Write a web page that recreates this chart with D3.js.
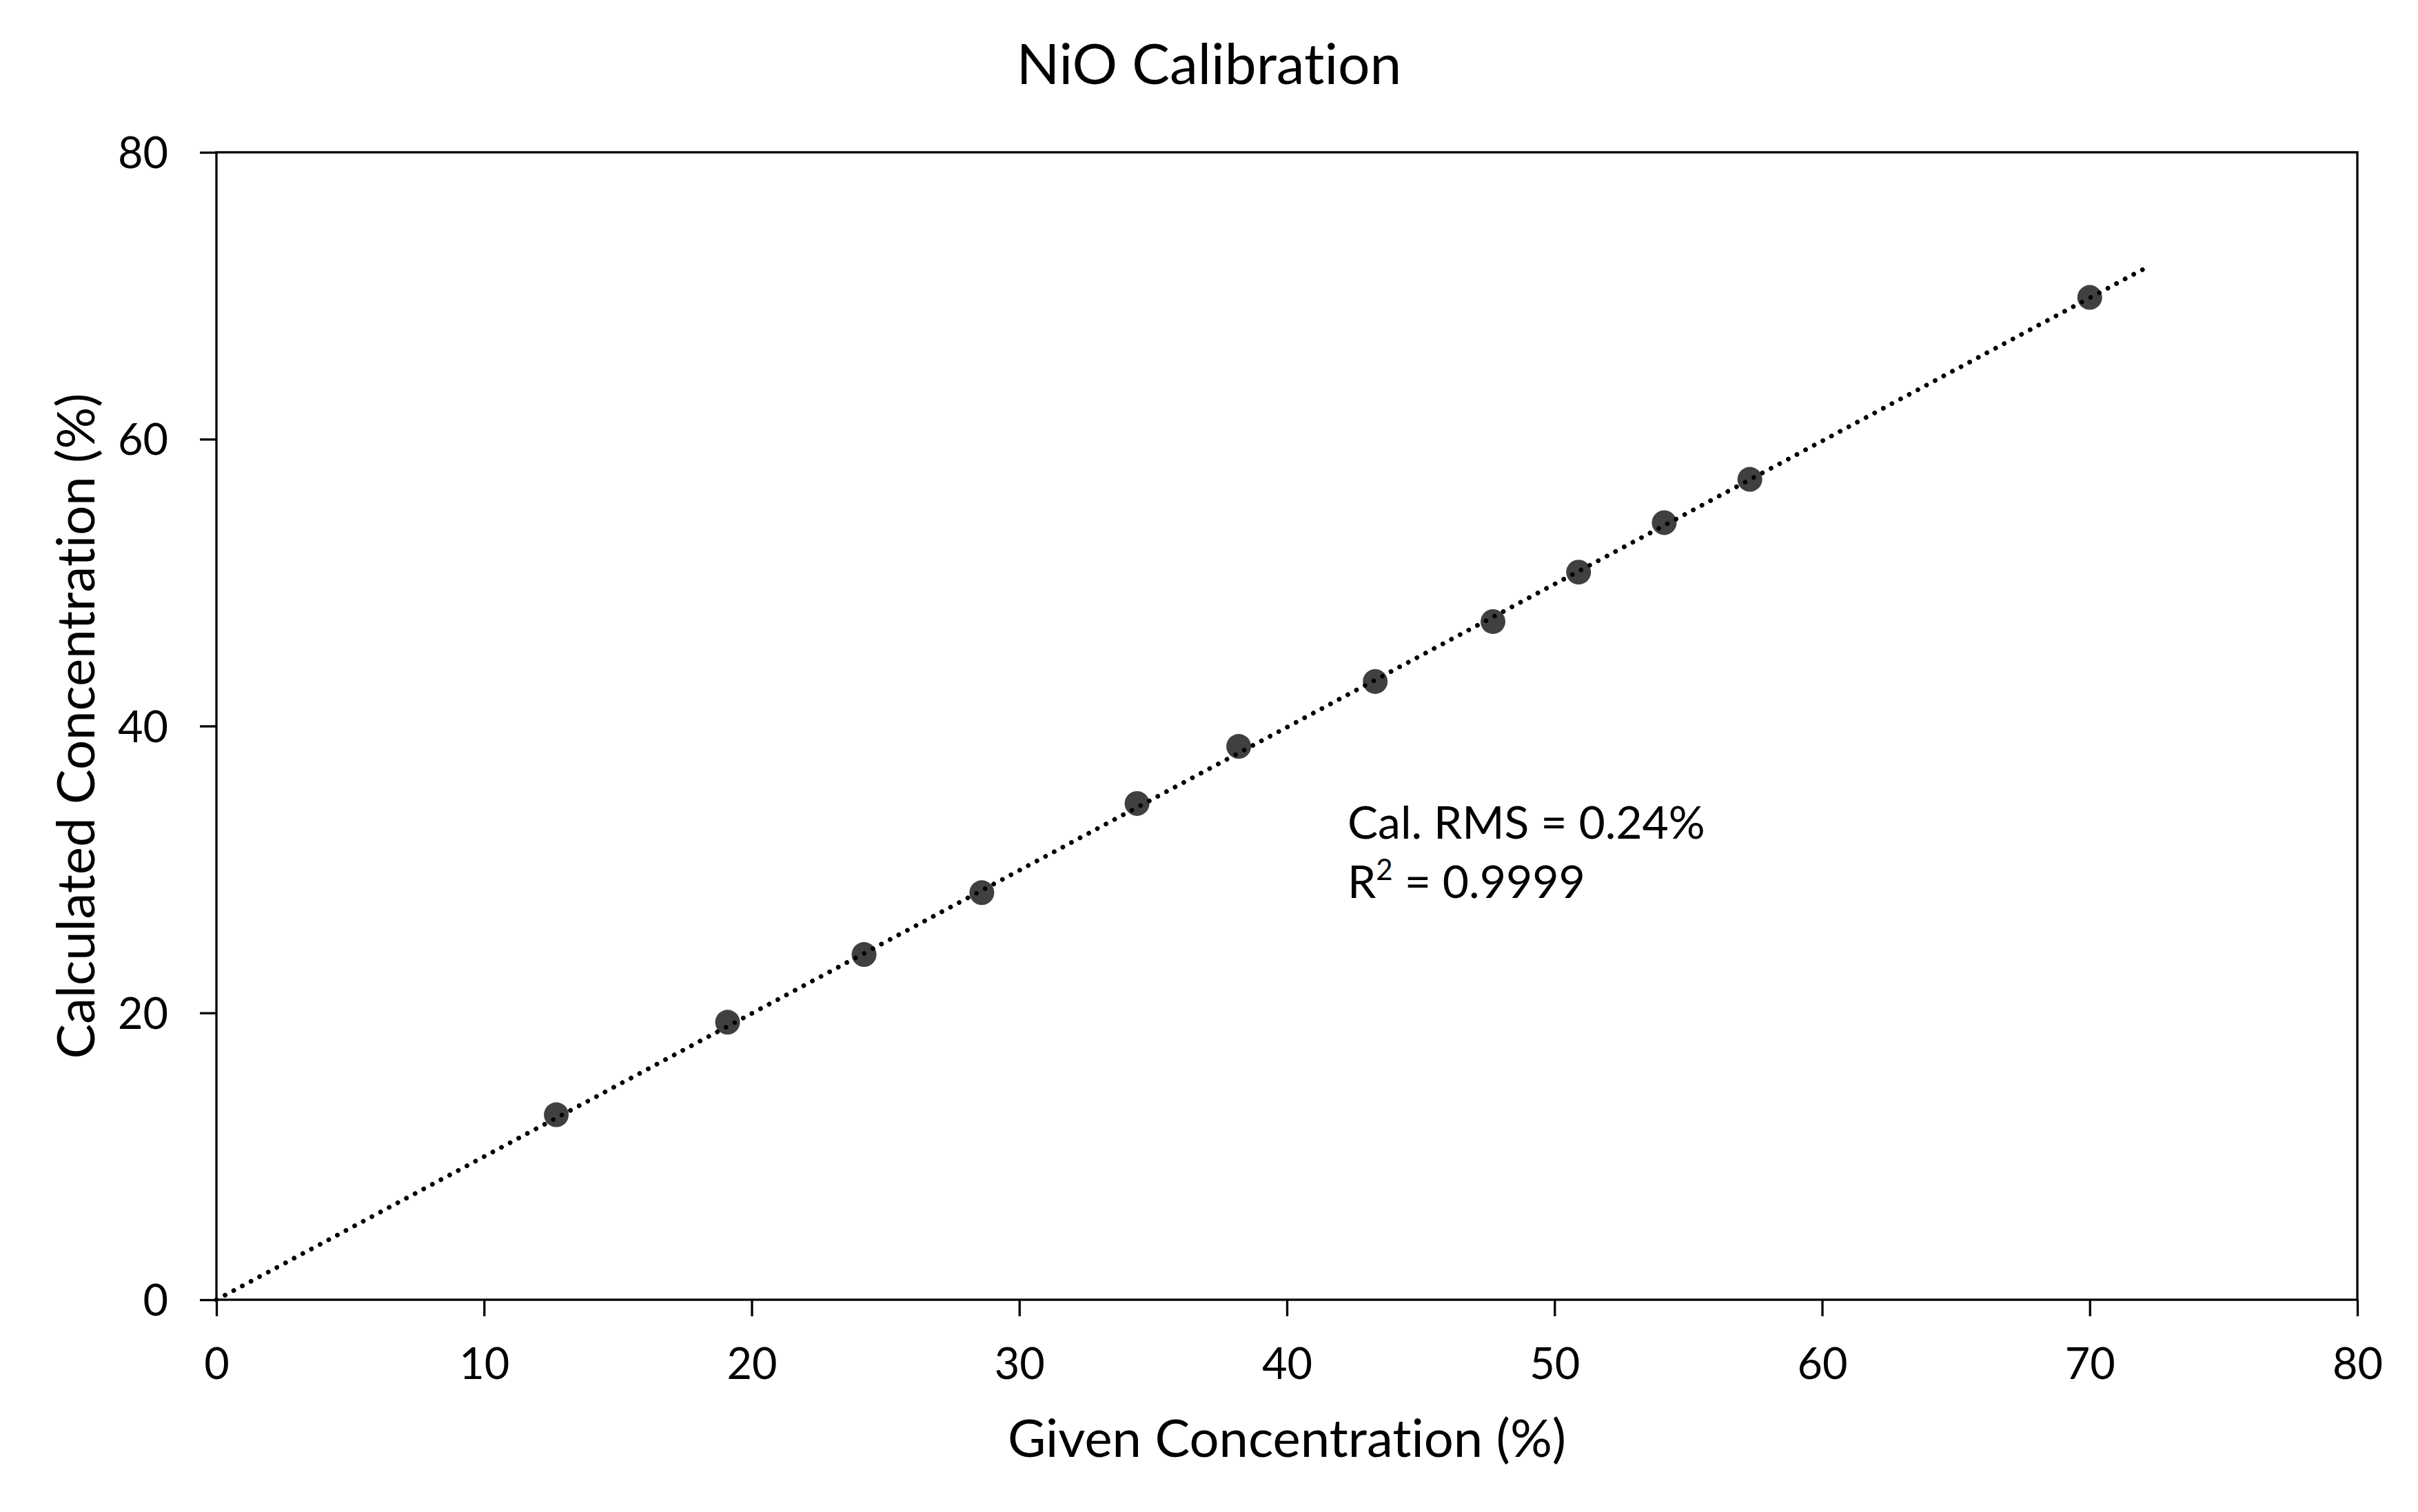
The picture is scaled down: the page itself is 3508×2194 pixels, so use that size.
<!DOCTYPE html>
<html><head><meta charset="utf-8">
<script src="https://cdn.jsdelivr.net/npm/d3@7"></script>
<style>body{margin:0;background:#fff}svg{display:block}text{font-family:Lato,"Open Sans",sans-serif;fill:#000;font-variant-ligatures:none;font-feature-settings:"liga" 0,"clig" 0}</style>
</head><body>
<script>
const givenConc = [12.7, 19.1, 24.2, 28.6, 34.4, 38.2, 43.3, 47.7, 50.9, 54.1, 57.3, 70.0];
const calcConc  = [12.9, 19.35, 24.07, 28.38, 34.6, 38.58, 43.1, 47.28, 50.73, 54.18, 57.2, 69.88];
const trendX = [0, 72];
const trendY = [0, 71.85];
const xTicks = [0, 10, 20, 30, 40, 50, 60, 70, 80];
const yTicks = [0, 20, 40, 60, 80];
const titleText = "NiO Calibration";
const xTitle = "Given Concentration (%)";
const yTitle = "Calculated Concentration (%)";
const annotRMS = "Cal. RMS = 0.24%";
const annotR2Value = " = 0.9999";

const W = 3508, H = 2194;
const L = 314, R = 3420, T = 221, B = 1886;
const svg = d3.select("body").append("svg").attr("width", W).attr("height", H);
svg.append("rect").attr("width", W).attr("height", H).attr("fill", "#fff");

const x = d3.scaleLinear().domain([0, 80]).range([L, R]);
const y = d3.scaleLinear().domain([0, 80]).range([B, T]);

// frame
svg.append("rect").attr("x", L).attr("y", T).attr("width", R - L).attr("height", B - T)
  .attr("fill", "none").attr("stroke", "#000").attr("stroke-width", 3.3);

const xAxis = svg.append("g").attr("transform", `translate(0,${B})`)
  .call(d3.axisBottom(x).tickValues(xTicks).tickSize(24).tickPadding(46).tickFormat(d3.format("d")));
const yAxis = svg.append("g").attr("transform", `translate(${L},0)`)
  .call(d3.axisLeft(y).tickValues(yTicks).tickSize(24).tickPadding(46).tickFormat(d3.format("d")));
[xAxis, yAxis].forEach(g => {
  g.select(".domain").remove();
  g.selectAll(".tick line").attr("stroke", "#000").attr("stroke-width", 3.3);
  g.selectAll(".tick text").attr("font-family", "Lato").attr("font-size", 63).attr("fill", "#000");
});
yAxis.selectAll(".tick text").attr("dy", "0.36em");
xAxis.selectAll(".tick text").attr("dy", "0.72em");

// trendline
const tl = d3.line().x(d => x(d[0])).y(d => y(d[1]));
svg.append("path").datum(d3.zip(trendX, trendY)).attr("d", tl)
  .attr("fill", "none").attr("stroke", "#000").attr("stroke-width", 6.5)
  .attr("stroke-linecap", "round").attr("stroke-dasharray", "0.01 14.2");

// points
svg.append("g").selectAll("circle").data(d3.zip(givenConc, calcConc)).join("circle")
  .attr("cx", d => x(d[0])).attr("cy", d => y(d[1])).attr("r", 18).attr("fill", "#404040");

// trendline dots drawn over markers
svg.append("path").datum(d3.zip(trendX, trendY)).attr("d", tl)
  .attr("fill", "none").attr("stroke", "#000").attr("stroke-width", 6.5)
  .attr("stroke-linecap", "round").attr("stroke-dasharray", "0.01 14.2");

// titles
svg.append("text").attr("x", W / 2).attr("y", 122).attr("text-anchor", "middle")
  .attr("font-size", 82).text(titleText);
svg.append("text").attr("x", (L + R) / 2).attr("y", 2114).attr("text-anchor", "middle")
  .attr("font-size", 76).text(xTitle);
svg.append("text").attr("transform", `translate(137,${(T + B) / 2}) rotate(-90)`)
  .attr("text-anchor", "middle").attr("font-size", 76).text(yTitle);

// annotation
svg.append("text").attr("x", 1955).attr("y", 1217).attr("font-size", 66).text(annotRMS);
const r2 = svg.append("text").attr("x", 1955).attr("y", 1303).attr("font-size", 66);
r2.append("tspan").text("R");
r2.append("tspan").attr("font-size", 42).attr("dy", -26).text("2");
r2.append("tspan").attr("dy", 26).text(annotR2Value);
</script>
</body></html>
